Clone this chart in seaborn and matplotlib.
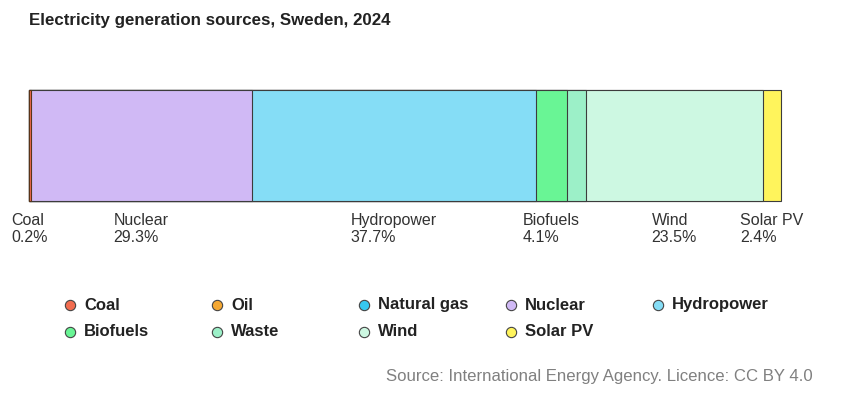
import matplotlib
matplotlib.use("Agg")
import matplotlib.pyplot as plt
import pandas as pd
import seaborn as sns
from matplotlib.transforms import blended_transform_factory

TITLE = "Electricity generation sources, Sweden, 2024"
SOURCE = "Source: International Energy Agency. Licence: CC BY 4.0"

# segments of the stacked bar (share of generation, %)
segments = ["Coal", "Nuclear", "Hydropower", "Biofuels", "Waste", "Wind", "Solar PV"]
shares = [0.2, 29.3, 37.7, 4.1, 2.5, 23.5, 2.4]
labelled = [True, True, True, True, False, True, True]

# legend entries (all sources, incl. ones not in the bar)
legend_names = ["Coal", "Oil", "Natural gas", "Nuclear", "Hydropower",
                "Biofuels", "Waste", "Wind", "Solar PV"]
legend_colors = ["#f26c4f", "#f5a833", "#36c8f0", "#d0b9f5", "#85ddf6",
                 "#69f595", "#9cf0c8", "#cdf8e2", "#fff45c"]

W, H = 842, 396

sns.set_theme(style="white")
plt.rcParams["font.family"] = ["Liberation Sans", "DejaVu Sans"]

color_of = dict(zip(legend_names, legend_colors))
df = pd.DataFrame({"source": segments, "share": shares, "labelled": labelled})
df["end"] = df["share"].cumsum()
df["start"] = df["end"] - df["share"]
df["row"] = "Sweden"

fig = plt.figure(figsize=(W / 100, H / 100), dpi=100)
ax = fig.add_axes([29 / W, (H - 201) / H, 752 / W, 111 / H])

# stacked bar: draw cumulative totals from the largest down
for _, r in df.iloc[::-1].iterrows():
    edge = "#5a3418" if r["source"] == "Coal" else "#3c3c3c"
    sns.barplot(data=df[df["source"] == r["source"]], x="end", y="row",
                orient="h", color=color_of[r["source"]], saturation=1,
                width=1, errorbar=None, edgecolor=edge, linewidth=0.8, ax=ax)

ax.set_xlim(0, df["end"].iloc[-1])
ax.set_ylim(0.5, -0.5)
ax.axis("off")
for p in ax.patches:
    p.set_clip_on(False)

trans = blended_transform_factory(ax.transData, ax.transAxes)
for _, r in df[df["labelled"]].iterrows():
    ax.text((r["start"] + r["end"]) / 2, -0.11, f"{r['source']}\n{r['share']:.1f}%",
            transform=trans, ha="center", va="top", multialignment="left",
            fontsize=11.5, color="#333333", linespacing=1.15)

fig.text(29 / W, 1 - 20 / H, TITLE, fontsize=12.2, fontweight="bold",
         color="#222222", ha="left", va="center")

# legend laid out in a 5-column grid
lax = fig.add_axes([0, 0, 1, 1])
lax.set_xlim(0, W)
lax.set_ylim(H, 0)
lax.axis("off")
for i, (name, col) in enumerate(zip(legend_names, legend_colors)):
    x = 70 + 147 * (i % 5)
    y = 305 + 27 * (i // 5)
    lax.scatter([x], [y], s=55, color=col, edgecolor="#444444", linewidth=0.8)
    lax.text(x + 14, y, name, ha="left", va="center", fontsize=12,
             fontweight="bold", color="#222222")

fig.text(813 / W, 1 - 377 / H, SOURCE, fontsize=12.1, color="#808080",
         ha="right", va="center")

fig.savefig("out.png", dpi=100)
